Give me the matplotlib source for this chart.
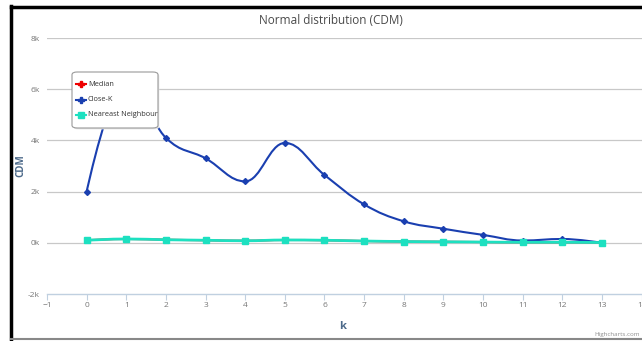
import numpy as np
import matplotlib
matplotlib.use("Agg")
import matplotlib.pyplot as plt
from matplotlib.path import Path
from matplotlib.patches import PathPatch, FancyBboxPatch
from matplotlib.lines import Line2D

k = list(range(14))
median = [100, 150, 120, 100, 80, 110, 100, 70, 50, 40, 30, 20, 20, 10]
close_k = [2000, 6300, 4100, 3300, 2400, 3900, 2650, 1500, 840, 550, 310, 90, 150, 0]
nearest = [100, 150, 120, 100, 80, 110, 100, 70, 50, 40, 30, 20, 20, 10]

y_ticks = [-2000, 0, 2000, 4000, 6000, 8000]
y_labels = ["-2k", "0k", "2k", "4k", "6k", "8k"]
x_ticks = list(range(-1, 15))


def spline_path(xs, ys, smoothing=1.5):
    # Highcharts-style spline control points
    denom = smoothing + 1
    n = len(xs)
    verts = [(xs[0], ys[0])]
    codes = [Path.MOVETO]
    left, right = [None] * n, [None] * n
    for i in range(1, n - 1):
        px, py = xs[i], ys[i]
        lx, ly = xs[i - 1], ys[i - 1]
        nx, ny = xs[i + 1], ys[i + 1]
        lcx = (smoothing * px + lx) / denom
        lcy = (smoothing * py + ly) / denom
        rcx = (smoothing * px + nx) / denom
        rcy = (smoothing * py + ny) / denom
        if rcx != lcx:
            corr = (rcy - lcy) * (rcx - px) / (rcx - lcx) + py - rcy
            lcy += corr
            rcy += corr
        if lcy > ly and lcy > py:
            lcy = max(ly, py)
            rcy = 2 * py - lcy
        elif lcy < ly and lcy < py:
            lcy = min(ly, py)
            rcy = 2 * py - lcy
        if rcy > ny and rcy > py:
            rcy = max(ny, py)
            lcy = 2 * py - rcy
        elif rcy < ny and rcy < py:
            rcy = min(ny, py)
            lcy = 2 * py - rcy
        left[i] = (lcx, lcy)
        right[i] = (rcx, rcy)
    for i in range(1, n):
        c1 = right[i - 1] if right[i - 1] else (xs[i - 1], ys[i - 1])
        c2 = left[i] if left[i] else (xs[i], ys[i])
        verts += [c1, c2, (xs[i], ys[i])]
        codes += [Path.CURVE4] * 3
    return Path(verts, codes)


plt.rcParams.update({"font.family": "Open Sans"})
fig = plt.figure(figsize=(6.42, 3.41), dpi=100)
ax = fig.add_axes([0.0732, 0.1378, 0.9262, 0.7507])
ax.set_xlim(-1, 14)
ax.set_ylim(-2000, 8000)

for s in ["top", "right", "left"]:
    ax.spines[s].set_visible(False)
ax.spines["bottom"].set_color("#c0d0e0")
ax.spines["bottom"].set_linewidth(1)

ax.set_yticks(y_ticks)
ax.set_yticklabels(y_labels)
ax.set_xticks(x_ticks)
ax.tick_params(axis="y", length=0, labelsize=6, labelcolor="#777777", pad=5)
ax.tick_params(axis="x", length=4, color="#c0d0e0", labelsize=6, labelcolor="#777777", pad=2)
for yv in y_ticks[1:]:
    ax.axhline(yv, color="#c8c8c8", lw=0.9, zorder=0)

red, blue, teal = "#ee0000", "#1a3fb0", "#1de0c0"

ax.add_patch(PathPatch(spline_path(k, median), fill=False, ec=red, lw=1.5, zorder=2))
ax.add_patch(PathPatch(spline_path(k, close_k), fill=False, ec=blue, lw=1.5, zorder=3))
ax.plot(k, close_k, ls="none", marker="D", ms=3, color=blue, zorder=4)
ax.add_patch(PathPatch(spline_path(k, nearest), fill=False, ec=teal, lw=2, zorder=5))
ax.plot(k, nearest, ls="none", marker="s", ms=5, color=teal, zorder=6)

ax.set_xlabel("k", fontsize=8, fontweight="bold", color="#4d6a8a")
ax.xaxis.set_label_coords(0.498, -0.105)
ax.set_ylabel("CDM", fontsize=7, fontweight="bold", color="#4d6a8a")
ax.yaxis.set_label_coords(-0.034, 0.5)

fig.text(0.515, 0.94, "Normal distribution (CDM)", ha="center", va="center",
         fontsize=8.5, color="#4a4a4a")
fig.text(0.997, 0.018, "Highcharts.com", ha="right", va="center", fontsize=4.5, color="#909090")

# legend box, drawn inside the axes so it sits above the series
tf = fig.transFigure
lx0, ly0, lw, lh = 72 / 642, 1 - 128 / 341, 86 / 642, 56 / 341
ax.add_artist(FancyBboxPatch((lx0 + 0.002, ly0 - 0.004), lw, lh,
                             boxstyle="round,pad=0,rounding_size=0.008",
                             transform=tf, fc="#e6e6e6", ec="none", zorder=9, clip_on=False))
ax.add_artist(FancyBboxPatch((lx0, ly0), lw, lh,
                             boxstyle="round,pad=0,rounding_size=0.008",
                             transform=tf, fc="white", ec="#999999", lw=0.8, zorder=10, clip_on=False))
items = [("Median", red, "P"), ("Close-K", blue, "P"), ("Neareast Neighbour", teal, "s")]
for i, (name, col, mk) in enumerate(items):
    yy = 1 - (84 + i * 15.5) / 341
    ax.add_artist(Line2D([76 / 642, 86 / 642], [yy, yy], color=col, lw=1.5,
                         transform=tf, zorder=11, clip_on=False))
    ax.add_artist(Line2D([81 / 642], [yy], color=col, marker=mk, ms=5,
                         transform=tf, zorder=12, clip_on=False))
    ax.text(88 / 642, yy, name, fontsize=5.3, color="#333333", va="center", ha="left",
            transform=tf, zorder=12)

# outer frame
fig.add_artist(Line2D([11.5 / 642, 11.5 / 642], [0, 1 - 6 / 341], color="black", lw=2.5,
                      transform=tf))
fig.add_artist(Line2D([11.5 / 642, 1], [1 - 6.5 / 341, 1 - 6.5 / 341], color="black", lw=2.5,
                      transform=tf))
fig.add_artist(Line2D([11.5 / 642, 1], [2.5 / 341, 2.5 / 341], color="#888888", lw=1.5,
                      transform=tf))

fig.savefig("out.png", dpi=100)
